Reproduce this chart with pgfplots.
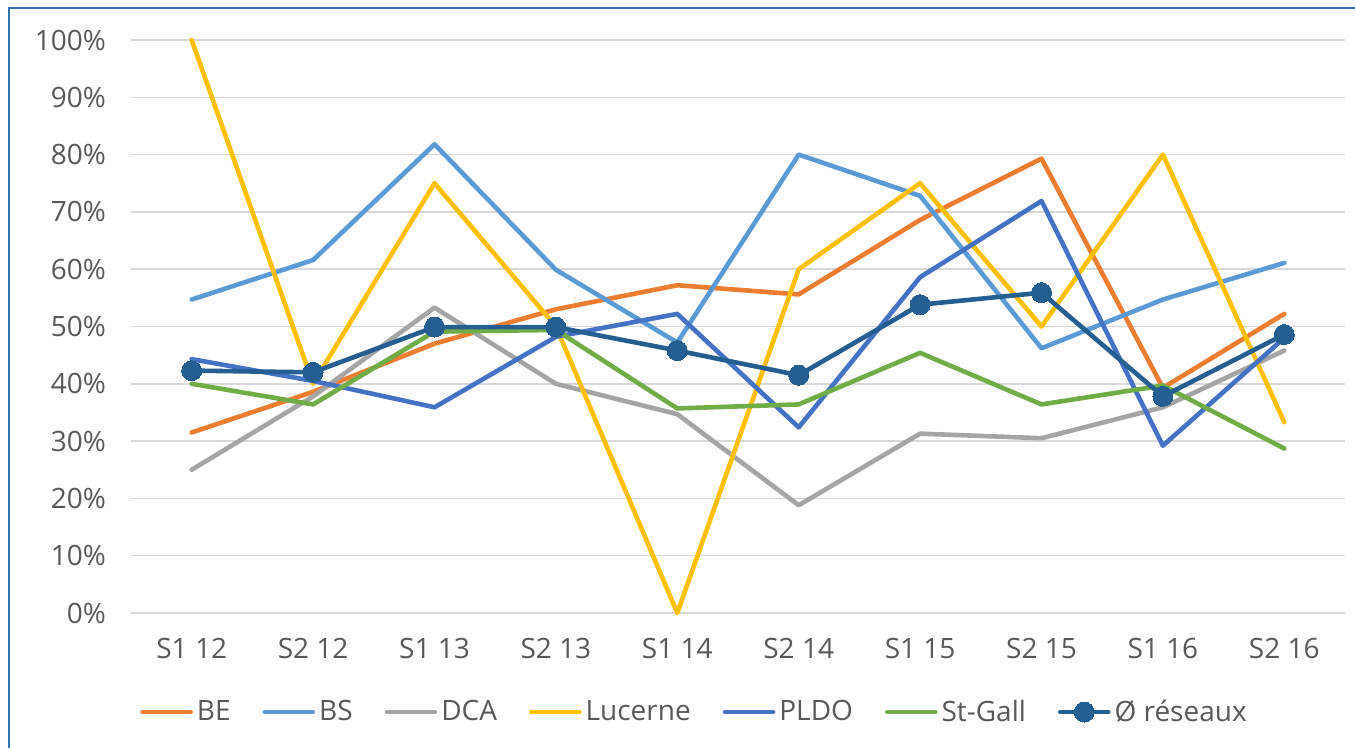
\documentclass[border=0pt]{standalone}
\usepackage{pgfplots}
\pgfplotsset{compat=1.18}
\usepackage{fontspec}
\setmainfont{Open Sans}
\definecolor{cBE}{HTML}{ED7D31}
\definecolor{cBS}{HTML}{5B9BD5}
\definecolor{cDCA}{HTML}{A5A5A5}
\definecolor{cLU}{HTML}{FFC000}
\definecolor{cPL}{HTML}{4472C4}
\definecolor{cSG}{HTML}{70AD47}
\definecolor{cAV}{HTML}{255E91}
\definecolor{txt}{HTML}{595959}
\definecolor{gridc}{HTML}{D9D9D9}
\definecolor{framec}{HTML}{2E75B6}
\begin{document}
\begin{tikzpicture}
\useasboundingbox (0,0) rectangle (677.5pt,374pt);
\draw[framec, line width=1pt] (4.5pt,0pt) -- (4.5pt,370pt) -- (677.5pt,370pt);
\begin{axis}[
  at={(65.5pt,67.5pt)}, anchor=south west,
  scale only axis, width=607pt, height=286.5pt,
  xmin=-0.5, xmax=9.5, ymin=0, ymax=100,
  xtick={0,...,9},
  xticklabels={S1 12,S2 12,S1 13,S2 13,S1 14,S2 14,S1 15,S2 15,S1 16,S2 16},
  ytick={0,10,...,100},
  yticklabels={0\%,10\%,20\%,30\%,40\%,50\%,60\%,70\%,80\%,90\%,100\%},
  xmajorgrids=false, ymajorgrids=true,
  major grid style={draw=gridc, line width=0.75pt},
  axis line style={draw=none}, tick style={draw=none},
  ticklabel style={font=\fontsize{14}{16}\selectfont, text=txt},
  xticklabel style={yshift=-9pt},
  yticklabel style={xshift=-9pt},
  clip=false,
  legend columns=-1,
  legend style={at={(0.465,-0.1728)}, anchor=center, draw=none, fill=none,
    font=\fontsize{14}{16}\selectfont, text=txt,
    /tikz/every even column/.append style={column sep=14pt},
    inner sep=0pt},
  legend image code/.code={\draw[mark repeat=2,mark phase=2,#1] plot coordinates {(0pt,0pt) (12pt,0pt) (24pt,0pt)};},
  every axis plot/.append style={line width=2.3pt, line join=round, line cap=round},
]
\addplot[cBE, no marks] coordinates {(0,31.5) (1,38.6) (2,47.0) (3,53.0) (4,57.2) (5,55.6) (6,68.6) (7,79.3) (8,39.3) (9,52.2)};
\addlegendentry{BE}
\addplot[cBS, no marks] coordinates {(0,54.7) (1,61.6) (2,81.8) (3,59.9) (4,47.2) (5,80.0) (6,72.8) (7,46.2) (8,54.7) (9,61.1)};
\addlegendentry{BS}
\addplot[cDCA, no marks] coordinates {(0,25.0) (1,37.8) (2,53.3) (3,40.0) (4,34.7) (5,18.8) (6,31.3) (7,30.5) (8,35.9) (9,45.8)};
\addlegendentry{DCA}
\addplot[cLU, no marks] coordinates {(0,100) (1,40.0) (2,75.0) (3,50.0) (4,0) (5,60.0) (6,75.0) (7,50.0) (8,80.0) (9,33.3)};
\addlegendentry{Lucerne}
\addplot[cPL, no marks] coordinates {(0,44.3) (1,40.5) (2,35.9) (3,48.2) (4,52.2) (5,32.4) (6,58.6) (7,71.9) (8,29.2) (9,48.0)};
\addlegendentry{PLDO}
\addplot[cSG, no marks] coordinates {(0,40.0) (1,36.4) (2,49.1) (3,49.4) (4,35.7) (5,36.4) (6,45.4) (7,36.4) (8,39.7) (9,28.7)};
\addlegendentry{St-Gall}
\addplot[cAV, mark=*, mark size=5pt, mark options={fill=cAV, draw=cAV, line width=0pt}] coordinates {(0,42.3) (1,42.0) (2,49.9) (3,49.9) (4,45.8) (5,41.5) (6,53.8) (7,55.9) (8,37.8) (9,48.6)};
\addlegendentry{Ø réseaux}
\end{axis}
\end{tikzpicture}
\end{document}
